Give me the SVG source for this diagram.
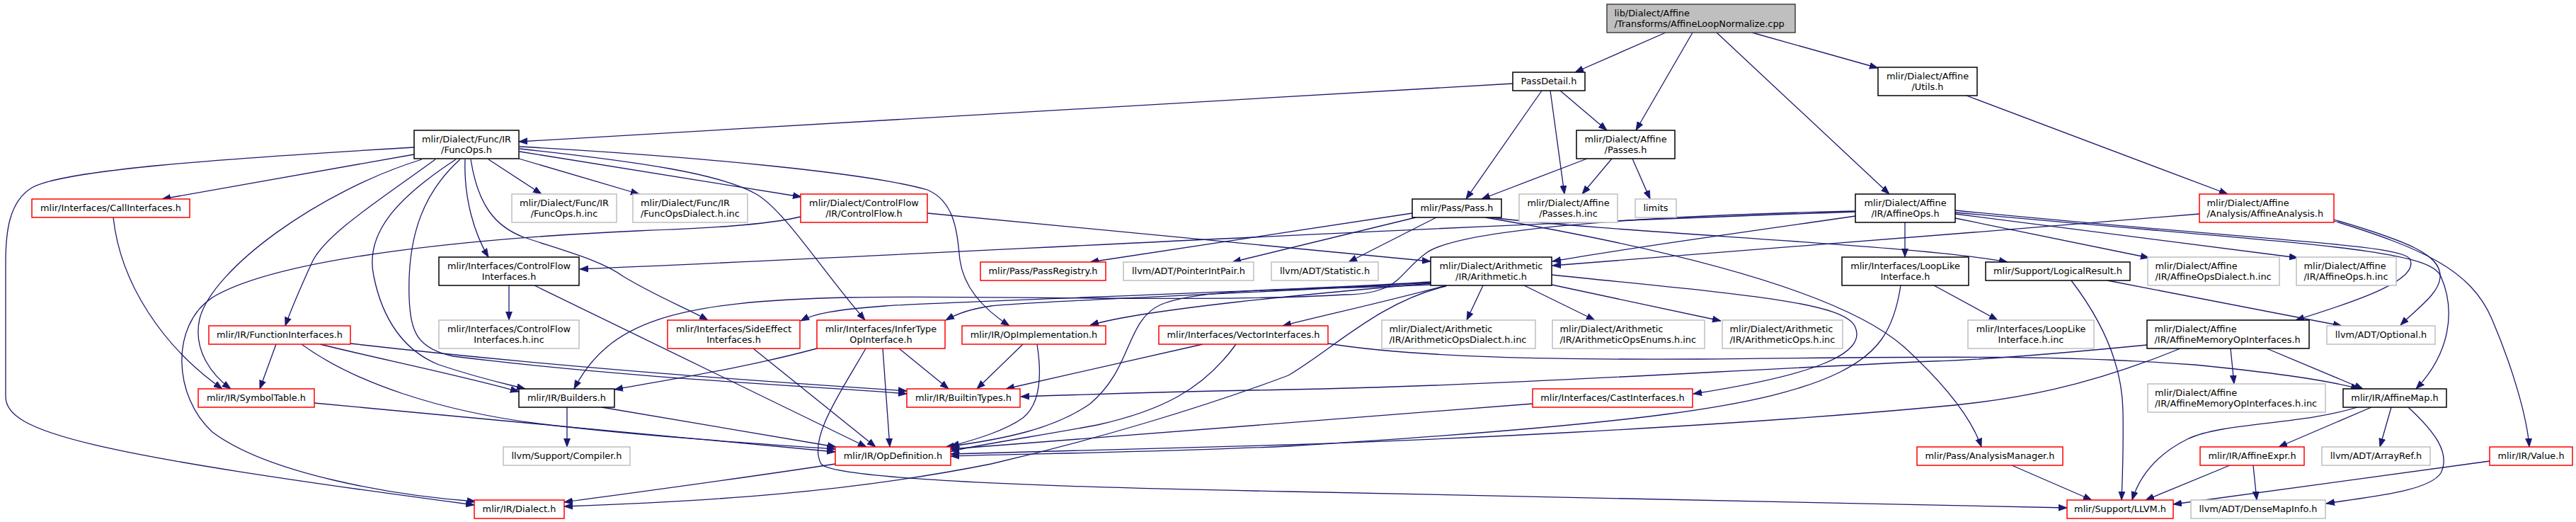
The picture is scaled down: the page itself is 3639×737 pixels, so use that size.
<svg xmlns="http://www.w3.org/2000/svg" width="3639" height="737" viewBox="0 0 3639 737">
<style>
rect{stroke-width:1.5}
.b rect{fill:#fff;stroke:#000}
.r rect{fill:#fff;stroke:#ff0000}
.g rect{fill:#fff;stroke:#bfbfbf}
.root rect{fill:#bfbfbf;stroke:#404040}
text{font-family:"DejaVu Sans","Liberation Sans",sans-serif;font-size:12.9px;fill:#000}
.c text{text-anchor:middle}
#edges path{fill:none;stroke:#191970;stroke-width:1.3;marker-end:url(#ah)}
</style>
<defs>
<marker id="ah" viewBox="0 0 12 10" refX="12" refY="5" markerWidth="12" markerHeight="10" markerUnits="userSpaceOnUse" orient="auto">
<path d="M0,0.5 L12,5 L0,9.5 z" fill="#191970" stroke="#191970" stroke-width="0.8"/>
</marker>
</defs>
<rect x="0" y="0" width="3639" height="737" fill="#fff" stroke="none"/>
<g id="edges">
<path d="M2353,46 L2225,102"/>
<path d="M2391,46 L2311,184"/>
<path d="M2425,46 L2669,274"/>
<path d="M2475,46 L2653,96"/>
<path d="M2137,118 L733,200"/>
<path d="M2178,128 L2071,281"/>
<path d="M2190,128 L2210,274"/>
<path d="M2204,128 L2270,184"/>
<path d="M2242,224 L2093,281"/>
<path d="M2277,224 L2235,274"/>
<path d="M2306,224 L2331,281"/>
<path d="M2778,135 L3147,274"/>
<path d="M3107,302 C2800,327 2400,360 2193,375"/>
<path d="M3297,310 C3400,340 3450,360 3447,392 C3445,415 3415,435 3391,459"/>
<path d="M3297,312 C3420,350 3490,380 3520,450 C3550,520 3570,590 3573,631"/>
<path d="M2621,299 C2000,320 1300,360 819,380"/>
<path d="M2621,305 C2450,330 2300,350 2193,369"/>
<path d="M2621,298 C2300,305 2060,325 2015,357 C1990,375 1980,395 1960,405 C1940,414 1920,416 1900,416 C1700,428 1400,416 1200,420 C950,425 860,455 811,549"/>
<path d="M2691,314 L2691,363"/>
<path d="M2762,308 L3036,364"/>
<path d="M2762,302 L3246,364"/>
<path d="M2762,297 C3200,340 3390,345 3404,365 C3420,395 3330,425 3243,452"/>
<path d="M2762,300 C3250,345 3430,350 3448,390 C3470,440 3460,500 3413,549"/>
<path d="M1995,301 L1540,370"/>
<path d="M2000,307 L1741,370"/>
<path d="M2029,307 L1905,370"/>
<path d="M2106,307 C2300,330 2700,345 2836,370"/>
<path d="M2098,307 C2350,350 2600,410 2690,490 C2750,545 2785,590 2799,631"/>
<path d="M585,208 C300,225 90,240 45,265 C12,285 8,330 8,370 L8,560 C8,610 120,640 670,713"/>
<path d="M585,218 L229,281"/>
<path d="M596,225 C450,270 300,380 282,450 C272,495 300,530 326,549"/>
<path d="M615,225 C540,280 460,330 441,370 C425,405 410,440 403,460"/>
<path d="M644,225 C560,280 515,330 528,390 C540,450 570,495 620,515 C680,535 715,542 742,549"/>
<path d="M650,225 C600,270 575,330 578,420 C580,470 590,492 640,503 C900,535 1150,545 1281,556"/>
<path d="M657,225 C655,280 670,330 690,363"/>
<path d="M665,225 C675,290 700,320 740,335 C800,355 850,368 880,390 C930,420 970,435 1000,452"/>
<path d="M690,225 L765,274"/>
<path d="M733,224 L903,274"/>
<path d="M734,214 L1132,278"/>
<path d="M734,210 C900,228 1020,245 1070,275 C1110,300 1160,380 1222,452"/>
<path d="M734,207 C1000,222 1230,245 1310,268 C1350,285 1352,330 1356,367 C1362,410 1395,440 1426,460"/>
<path d="M1310,301 L2021,369"/>
<path d="M1131,306 C1080,318 1000,322 900,326 C700,335 400,360 300,420 C240,460 245,560 300,610 C380,670 560,700 672,708"/>
<path d="M160,307 C170,400 230,490 314,549"/>
<path d="M390,486 L367,549"/>
<path d="M452,486 C550,510 650,530 733,553"/>
<path d="M495,485 C800,520 1100,540 1281,552"/>
<path d="M426,486 C500,540 620,580 760,598 C900,615 1050,625 1180,634"/>
<path d="M444,569 L1180,638"/>
<path d="M719,403 L719,452"/>
<path d="M755,403 L1224,631"/>
<path d="M801,575 L801,631"/>
<path d="M850,575 L1181,631"/>
<path d="M1064,492 L1237,631"/>
<path d="M1154,492 C1050,520 950,535 868,550"/>
<path d="M1270,492 L1340,549"/>
<path d="M1247,492 L1257,631"/>
<path d="M1223,492 C1190,550 1140,620 1160,655 C1180,680 1600,690 1820,694 C2300,703 2700,712 2920,717"/>
<path d="M1445,486 L1380,549"/>
<path d="M1465,486 C1472,530 1470,570 1445,590 C1420,608 1380,620 1343,630"/>
<path d="M1699,486 L1421,549"/>
<path d="M1746,486 C1700,550 1640,580 1550,600 C1470,615 1400,625 1343,637"/>
<path d="M1876,485 C2000,505 2200,508 2400,507 C2700,504 2900,500 3100,515 C3200,525 3280,535 3333,549"/>
<path d="M2095,403 L2072,452"/>
<path d="M2153,403 L2253,452"/>
<path d="M2192,402 L2431,453"/>
<path d="M2192,388 C2450,415 2600,425 2620,460 C2640,500 2560,530 2392,556"/>
<path d="M2021,398 C1800,412 1350,425 1250,432 C1180,437 1150,443 1131,453"/>
<path d="M2021,399 C1800,413 1480,424 1400,432 C1370,436 1350,444 1336,452"/>
<path d="M2021,400 C1850,415 1620,436 1540,459"/>
<path d="M2043,403 C1950,428 1870,445 1812,460"/>
<path d="M2021,402 C1850,410 1700,405 1640,430 C1590,452 1600,520 1540,570 C1490,605 1420,620 1336,631"/>
<path d="M2043,404 C1950,425 1880,495 1820,530 C1700,575 1550,620 1400,655 C1200,695 1000,708 797,715"/>
<path d="M2732,403 L2822,452"/>
<path d="M2685,403 C2675,470 2650,500 2600,525 C2500,575 2300,600 1820,630 C1600,640 1450,640 1343,644"/>
<path d="M2926,396 C2975,460 2998,520 2999,580 C3000,640 2998,680 2997,706"/>
<path d="M2977,396 L3308,460"/>
<path d="M3033,487 C2900,500 2800,508 2730,510 C2400,525 2100,545 1820,550 C1650,553 1500,558 1442,560"/>
<path d="M3080,492 C2950,545 2850,565 2729,575 C2400,605 2000,622 1820,628 C1600,635 1450,637 1343,641"/>
<path d="M3151,492 L3156,542"/>
<path d="M3202,492 L3338,549"/>
<path d="M3330,575 C3250,600 3140,596 3090,620 C3040,645 3020,680 3012,706"/>
<path d="M3350,575 L3219,631"/>
<path d="M3378,575 L3362,631"/>
<path d="M3402,575 C3440,610 3462,640 3448,668 C3430,695 3340,702 3286,711"/>
<path d="M3150,657 L3031,706"/>
<path d="M3183,657 L3188,706"/>
<path d="M3517,651 L3070,712"/>
<path d="M2842,657 L2955,706"/>
<path d="M1180,655 C1050,675 900,695 797,709"/>
<path d="M2165,570 L1343,634"/>
</g>
<g id="n_root" class="root"><rect x="2270" y="6" width="266" height="40"/><text x="2280.5" y="22.5">lib/Dialect/Affine</text><text x="2280.5" y="37.5">/Transforms/AffineLoopNormalize.cpp</text></g>
<g id="n_passdetail" class="b c"><rect x="2137" y="102" width="102" height="26"/><text x="2188" y="119">PassDetail.h</text></g>
<g id="n_passes" class="b c"><rect x="2227" y="184" width="139" height="40"/><text x="2296.5" y="200.5">mlir/Dialect/Affine</text><text x="2296.5" y="215.5">/Passes.h</text></g>
<g id="n_utils" class="b c"><rect x="2653" y="95" width="140" height="40"/><text x="2723" y="111.5">mlir/Dialect/Affine</text><text x="2723" y="126.5">/Utils.h</text></g>
<g id="n_funcops" class="b c"><rect x="585" y="184" width="148" height="40"/><text x="659" y="200.5">mlir/Dialect/Func/IR</text><text x="659" y="215.5">/FuncOps.h</text></g>
<g id="n_callif" class="r c"><rect x="45" y="281" width="223" height="26"/><text x="156.5" y="298">mlir/Interfaces/CallInterfaces.h</text></g>
<g id="n_funcopsinc" class="g c"><rect x="723" y="274" width="148" height="40"/><text x="797" y="290.5">mlir/Dialect/Func/IR</text><text x="797" y="305.5">/FuncOps.h.inc</text></g>
<g id="n_funcopsdialectinc" class="g"><rect x="894" y="274" width="162" height="40"/><text x="905" y="290.5">mlir/Dialect/Func/IR</text><text x="905" y="305.5">/FuncOpsDialect.h.inc</text></g>
<g id="n_controlflow" class="r c"><rect x="1131" y="274" width="179" height="40"/><text x="1220.5" y="290.5">mlir/Dialect/ControlFlow</text><text x="1220.5" y="305.5">/IR/ControlFlow.h</text></g>
<g id="n_pass" class="b c"><rect x="1995" y="281" width="126" height="26"/><text x="2058" y="298">mlir/Pass/Pass.h</text></g>
<g id="n_passesinc" class="g c"><rect x="2146" y="274" width="139" height="40"/><text x="2215.5" y="290.5">mlir/Dialect/Affine</text><text x="2215.5" y="305.5">/Passes.h.inc</text></g>
<g id="n_limits" class="g c"><rect x="2310" y="281" width="58" height="26"/><text x="2339" y="298">limits</text></g>
<g id="n_affineops" class="b c"><rect x="2621" y="274" width="141" height="40"/><text x="2691.5" y="290.5">mlir/Dialect/Affine</text><text x="2691.5" y="305.5">/IR/AffineOps.h</text></g>
<g id="n_affineanalysis" class="r"><rect x="3107" y="274" width="190" height="40"/><text x="3117.5" y="290.5">mlir/Dialect/Affine</text><text x="3117.5" y="305.5">/Analysis/AffineAnalysis.h</text></g>
<g id="n_cfif" class="b c"><rect x="620" y="363" width="198" height="40"/><text x="719" y="379.5">mlir/Interfaces/ControlFlow</text><text x="719" y="394.5">Interfaces.h</text></g>
<g id="n_passregistry" class="r c"><rect x="1385" y="370" width="177" height="26"/><text x="1473.5" y="387">mlir/Pass/PassRegistry.h</text></g>
<g id="n_pointerintpair" class="g c"><rect x="1587" y="370" width="184" height="26"/><text x="1679" y="387">llvm/ADT/PointerIntPair.h</text></g>
<g id="n_statistic" class="g c"><rect x="1796" y="370" width="151" height="26"/><text x="1871.5" y="387">llvm/ADT/Statistic.h</text></g>
<g id="n_arith" class="b c"><rect x="2021" y="363" width="171" height="40"/><text x="2106.5" y="379.5">mlir/Dialect/Arithmetic</text><text x="2106.5" y="394.5">/IR/Arithmetic.h</text></g>
<g id="n_looplike" class="b c"><rect x="2602" y="363" width="179" height="40"/><text x="2691.5" y="379.5">mlir/Interfaces/LoopLike</text><text x="2691.5" y="394.5">Interface.h</text></g>
<g id="n_logicalresult" class="b c"><rect x="2805" y="370" width="204" height="26"/><text x="2907" y="387">mlir/Support/LogicalResult.h</text></g>
<g id="n_affineopsdialectinc" class="g"><rect x="3034" y="363" width="186" height="40"/><text x="3044.5" y="379.5">mlir/Dialect/Affine</text><text x="3044.5" y="394.5">/IR/AffineOpsDialect.h.inc</text></g>
<g id="n_affineopsinc" class="g"><rect x="3244" y="363" width="141" height="40"/><text x="3254.5" y="379.5">mlir/Dialect/Affine</text><text x="3254.5" y="394.5">/IR/AffineOps.h.inc</text></g>
<g id="n_cfifinc" class="g c"><rect x="620" y="452" width="198" height="40"/><text x="719" y="468.5">mlir/Interfaces/ControlFlow</text><text x="719" y="483.5">Interfaces.h.inc</text></g>
<g id="n_funcif" class="r c"><rect x="295" y="460" width="200" height="26"/><text x="395" y="477">mlir/IR/FunctionInterfaces.h</text></g>
<g id="n_sideeffect" class="r c"><rect x="943" y="452" width="187" height="40"/><text x="1036.5" y="468.5">mlir/Interfaces/SideEffect</text><text x="1036.5" y="483.5">Interfaces.h</text></g>
<g id="n_infertype" class="r c"><rect x="1154" y="452" width="181" height="40"/><text x="1244.5" y="468.5">mlir/Interfaces/InferType</text><text x="1244.5" y="483.5">OpInterface.h</text></g>
<g id="n_opimpl" class="r c"><rect x="1359" y="460" width="203" height="26"/><text x="1460.5" y="477">mlir/IR/OpImplementation.h</text></g>
<g id="n_vectorif" class="r c"><rect x="1637" y="460" width="239" height="26"/><text x="1756.5" y="477">mlir/Interfaces/VectorInterfaces.h</text></g>
<g id="n_arithdialectinc" class="g"><rect x="1952" y="452" width="217" height="40"/><text x="1962.5" y="468.5">mlir/Dialect/Arithmetic</text><text x="1962.5" y="483.5">/IR/ArithmeticOpsDialect.h.inc</text></g>
<g id="n_arithenumsinc" class="g"><rect x="2193" y="452" width="215" height="40"/><text x="2203.5" y="468.5">mlir/Dialect/Arithmetic</text><text x="2203.5" y="483.5">/IR/ArithmeticOpsEnums.h.inc</text></g>
<g id="n_arithopsinc" class="g"><rect x="2433" y="452" width="170" height="40"/><text x="2443.5" y="468.5">mlir/Dialect/Arithmetic</text><text x="2443.5" y="483.5">/IR/ArithmeticOps.h.inc</text></g>
<g id="n_looplikeinc" class="g c"><rect x="2780" y="452" width="178" height="40"/><text x="2869" y="468.5">mlir/Interfaces/LoopLike</text><text x="2869" y="483.5">Interface.h.inc</text></g>
<g id="n_affinememop" class="b"><rect x="3033" y="452" width="229" height="40"/><text x="3043.5" y="468.5">mlir/Dialect/Affine</text><text x="3043.5" y="483.5">/IR/AffineMemoryOpInterfaces.h</text></g>
<g id="n_optional" class="g c"><rect x="3287" y="460" width="153" height="26"/><text x="3363.5" y="477">llvm/ADT/Optional.h</text></g>
<g id="n_symboltable" class="r c"><rect x="280" y="549" width="164" height="26"/><text x="362" y="566">mlir/IR/SymbolTable.h</text></g>
<g id="n_builders" class="b c"><rect x="733" y="549" width="135" height="26"/><text x="800.5" y="566">mlir/IR/Builders.h</text></g>
<g id="n_builtintypes" class="r c"><rect x="1281" y="549" width="160" height="26"/><text x="1361" y="566">mlir/IR/BuiltinTypes.h</text></g>
<g id="n_castif" class="r c"><rect x="2165" y="549" width="226" height="26"/><text x="2278" y="566">mlir/Interfaces/CastInterfaces.h</text></g>
<g id="n_affinememopinc" class="g"><rect x="3034" y="542" width="251" height="40"/><text x="3044" y="558.5">mlir/Dialect/Affine</text><text x="3044" y="573.5">/IR/AffineMemoryOpInterfaces.h.inc</text></g>
<g id="n_affinemap" class="b c"><rect x="3310" y="549" width="146" height="26"/><text x="3383" y="566">mlir/IR/AffineMap.h</text></g>
<g id="n_compiler" class="g c"><rect x="711" y="631" width="179" height="26"/><text x="800.5" y="648">llvm/Support/Compiler.h</text></g>
<g id="n_opdef" class="r c"><rect x="1180" y="631" width="163" height="26"/><text x="1261.5" y="648">mlir/IR/OpDefinition.h</text></g>
<g id="n_analysismgr" class="r c"><rect x="2708" y="631" width="206" height="26"/><text x="2811" y="648">mlir/Pass/AnalysisManager.h</text></g>
<g id="n_affineexpr" class="r c"><rect x="3108" y="631" width="147" height="26"/><text x="3181.5" y="648">mlir/IR/AffineExpr.h</text></g>
<g id="n_arrayref" class="g c"><rect x="3280" y="631" width="153" height="26"/><text x="3356.5" y="648">llvm/ADT/ArrayRef.h</text></g>
<g id="n_value" class="r c"><rect x="3517" y="631" width="117" height="26"/><text x="3575.5" y="648">mlir/IR/Value.h</text></g>
<g id="n_dialect" class="r c"><rect x="670" y="706" width="127" height="26"/><text x="733.5" y="723">mlir/IR/Dialect.h</text></g>
<g id="n_llvm" class="r c"><rect x="2920" y="706" width="150" height="26"/><text x="2995" y="723">mlir/Support/LLVM.h</text></g>
<g id="n_densemapinfo" class="g c"><rect x="3095" y="706" width="190" height="26"/><text x="3190" y="723">llvm/ADT/DenseMapInfo.h</text></g>
</svg>
